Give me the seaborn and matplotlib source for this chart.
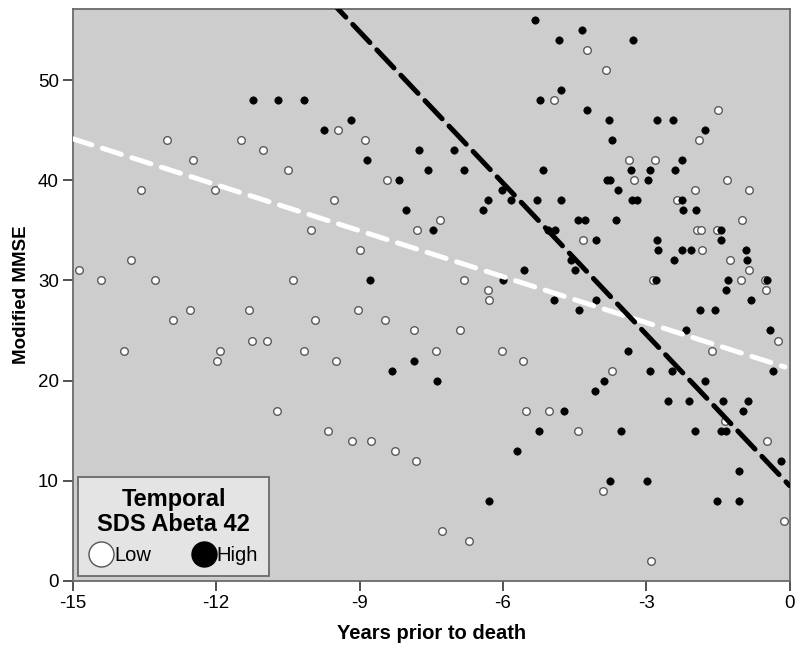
import numpy as np
import pandas as pd
import matplotlib
matplotlib.use("Agg")
import matplotlib.pyplot as plt
import seaborn as sns
from matplotlib.lines import Line2D

# Low SDS Abeta 42 (open circles)
low_years = [-13.03, -11.48, -12.48, -11.02, -10.50, -13.57, -12.02, -10.02, -14.88, -13.78,
             -14.42, -13.28, -10.40, -12.54, -11.32, -12.90, -13.92, -11.25, -10.93, -11.92,
             -11.99, -10.17, -10.73, -9.44, -8.88, -8.43, -9.53, -7.31, -7.80, -9.00,
             -6.82, -6.32, -6.28, -9.03, -8.47, -9.94, -7.87, -6.89, -9.50, -7.41,
             -6.01, -5.57, -5.52, -5.03, -9.65, -9.15, -8.77, -8.26, -7.81, -7.28,
             -6.70, -4.92, -4.24, -3.85, -1.50, -1.89, -3.36, -2.81, -3.26, -1.99,
             -1.30, -0.86, -2.35, -1.00, -1.93, -1.85, -1.52, -4.32, -1.83, -1.25,
             -0.84, -2.86, -1.02, -0.51, -0.49, -0.25, -1.63, -3.72, -1.36, -4.42,
             -0.48, -3.91, -0.12, -2.89]
low_mmse = [44, 44, 42, 43, 41, 39, 39, 35, 31, 32,
            30, 30, 30, 27, 27, 26, 23, 24, 24, 23,
            22, 23, 17, 45, 44, 40, 38, 36, 35, 33,
            30, 29, 28, 27, 26, 26, 25, 25, 22, 23,
            23, 22, 17, 17, 15, 14, 14, 13, 12, 5,
            4, 48, 53, 51, 47, 44, 42, 42, 40, 39,
            40, 39, 38, 36, 35, 35, 35, 34, 33, 32,
            31, 30, 30, 30, 29, 24, 23, 21, 16, 15,
            14, 9, 6, 2]

# High SDS Abeta 42 (filled circles)
high_years = [-11.23, -10.70, -10.17, -5.22, -9.17, -9.75, -8.84, -7.75, -7.02, -7.57,
              -6.81, -5.16, -8.18, -8.03, -6.42, -6.32, -6.02, -5.83, -5.29, -7.47,
              -8.79, -5.55, -6.00, -7.86, -8.33, -7.37, -5.25, -5.71, -6.28, -5.33,
              -4.35, -4.82, -3.28, -4.79, -4.24, -3.78, -3.72, -2.77, -2.44, -1.78,
              -2.26, -3.32, -2.93, -2.40, -3.83, -3.76, -2.97, -3.60, -4.78, -3.30,
              -3.20, -2.25, -2.23, -1.96, -4.42, -4.28, -3.64, -5.06, -4.90, -1.44,
              -4.06, -2.78, -1.43, -2.75, -2.25, -2.06, -0.91, -4.58, -2.41, -0.89,
              -4.49, -2.79, -1.28, -0.47, -1.33, -0.80, -4.93, -4.06, -4.40, -1.87,
              -1.57, -2.17, -0.42, -3.38, -0.35, -2.93, -2.46, -3.89, -1.78, -4.08,
              -2.54, -2.10, -1.39, -0.88, -4.73, -0.97, -3.53, -1.97, -1.43, -1.34,
              -0.18, -1.05, -3.76, -2.98, -1.52, -1.06]
high_mmse = [48, 48, 48, 48, 46, 45, 42, 43, 43, 41,
             41, 41, 40, 37, 37, 38, 39, 38, 38, 35,
             30, 31, 30, 22, 21, 20, 15, 13, 8, 56,
             55, 54, 54, 49, 47, 46, 44, 46, 46, 45,
             42, 41, 41, 41, 40, 40, 40, 39, 38, 38,
             38, 38, 37, 37, 36, 36, 36, 35, 35, 35,
             34, 34, 34, 33, 33, 33, 33, 32, 32, 32,
             31, 30, 30, 30, 29, 28, 28, 28, 27, 27,
             27, 25, 25, 23, 21, 21, 21, 20, 20, 19,
             18, 18, 18, 18, 17, 17, 15, 15, 15, 15,
             12, 11, 10, 10, 8, 8]

# fitted lines: intercept at year 0, slope per year
fit_groups = ["Low", "High"]
fit_intercept = [21.2, 9.5]
fit_slope = [-1.53, -5.04]
fit_xend = [-0.1, 0.0]

low = pd.DataFrame({"years": low_years, "mmse": low_mmse})
high = pd.DataFrame({"years": high_years, "mmse": high_mmse})

sns.set_style("white")
plt.rcParams["font.family"] = ["Liberation Sans", "DejaVu Sans"]
plt.rcParams["axes.unicode_minus"] = False
plt.rcParams["text.color"] = "black"
plt.rcParams["axes.labelcolor"] = "black"
plt.rcParams["xtick.color"] = "black"
plt.rcParams["ytick.color"] = "black"

fig = plt.figure(figsize=(8, 6.54), dpi=100)
ax = fig.add_axes([0.091, 0.112, 0.896, 0.874])
ax.set_facecolor("#cdcdcd")

sns.scatterplot(data=low, x="years", y="mmse", ax=ax, color="white",
                edgecolor="#5a5a5a", linewidth=1.0, s=30, zorder=3)
sns.scatterplot(data=high, x="years", y="mmse", ax=ax, color="black",
                edgecolor="black", linewidth=0.5, s=28, zorder=3)

line_colors = {"Low": "white", "High": "black"}
line_dash = {"Low": [4.0, 2.2], "High": [5.0, 2.0]}
for g, b0, b1, xe in zip(fit_groups, fit_intercept, fit_slope, fit_xend):
    xs = np.array([-15.0, xe])
    sns.lineplot(x=xs, y=b0 + b1 * xs, ax=ax, color=line_colors[g], lw=3.6,
                 zorder=4)
    ln = ax.lines[-1]
    ln.set_dashes(line_dash[g])
    ln.set_dash_capstyle("round")

ax.set_xlim(-15, 0)
ax.set_ylim(0, 57.1)
ax.set_xticks([-15, -12, -9, -6, -3, 0])
ax.set_yticks([0, 10, 20, 30, 40, 50])
ax.tick_params(axis="both", direction="out", length=7, width=1.2, color="#333333",
               labelcolor="black", labelsize=13.5, left=True, bottom=True, pad=3)
for sp in ax.spines.values():
    sp.set_color("#6a6a6a")
    sp.set_linewidth(1.3)

ax.set_xlabel("Years prior to death", fontsize=14.5, fontweight="bold", labelpad=9)
ax.set_ylabel("Modified MMSE", fontsize=13.5, fontweight="bold", labelpad=6)

handles = [
    Line2D([], [], marker="o", ls="", markersize=18, markerfacecolor="white",
           markeredgecolor="#555555", markeredgewidth=1.0, label="Low"),
    Line2D([], [], marker="o", ls="", markersize=18, markerfacecolor="black",
           markeredgecolor="black", label="High"),
]
leg = ax.legend(handles=handles, title="Temporal\nSDS Abeta 42", ncol=2,
                loc="lower left", bbox_to_anchor=(0.0075, 0.008), borderaxespad=0,
                fontsize=14.5, title_fontproperties={"weight": "bold", "size": 17},
                frameon=True, fancybox=False, handletextpad=0.05,
                columnspacing=2.0, borderpad=0.55, handlelength=1.2)
leg.get_frame().set_facecolor("#e4e4e4")
leg.get_frame().set_edgecolor("#6a6a6a")
leg.get_frame().set_linewidth(1.3)
leg.get_frame().set_alpha(1)
leg.get_title().set_multialignment("center")
leg.get_title().set_linespacing(1.1)
leg.get_title().set_color("black")
for t in leg.get_texts():
    t.set_color("black")
leg.set_zorder(5)

fig.savefig("out.png", dpi=100)
